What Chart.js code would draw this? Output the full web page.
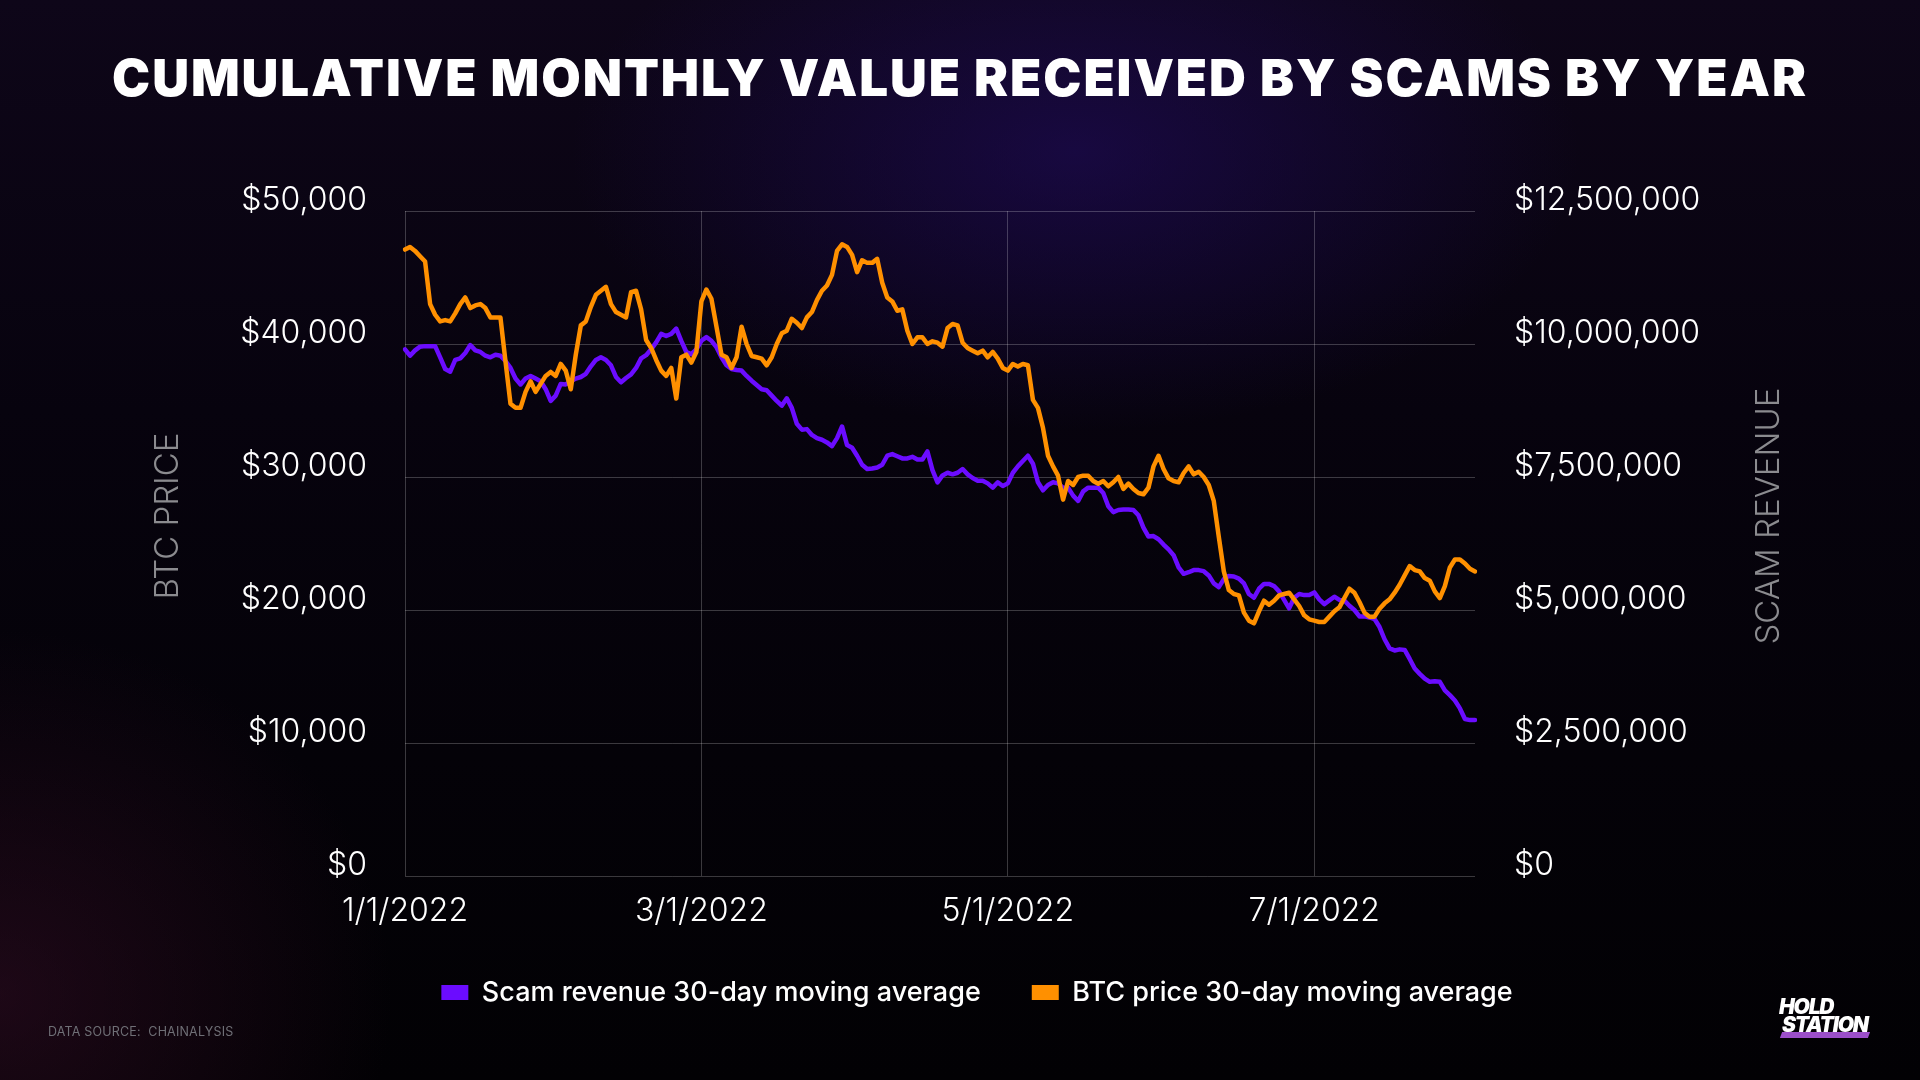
<!DOCTYPE html>
<html>
<head>
<meta charset="utf-8">
<script src="https://cdn.jsdelivr.net/npm/chart.js@4.4.1/dist/chart.umd.min.js"></script>
<style>
  html, body { margin: 0; padding: 0; }
  body {
    width: 1920px; height: 1080px; overflow: hidden; position: relative;
    font-family: Inter, 'Noto Sans', sans-serif;
    background:
      radial-gradient(ellipse 720px 400px at 56% 14%, rgba(34, 12, 100, 0.55), rgba(34, 12, 100, 0) 70%),
      radial-gradient(ellipse 560px 520px at 0% 92%, rgba(62, 16, 44, 0.45), rgba(62, 16, 44, 0) 70%),
      linear-gradient(to bottom, #0e0619 0%, #07030e 38%, #040208 70%, #020104 100%);
  }
  #chart { position: absolute; left: 0; top: 0; }
  .title {
    position: absolute; left: 0; top: 52px; width: 1920px; margin: 0;
    text-align: center; color: #fff;
    font-family: Inter, sans-serif; font-weight: 900; font-size: 51px; line-height: 52px;
    letter-spacing: 1.95px;
  }
  .source {
    position: absolute; left: 48px; top: 1024px;
    color: #6f6f76; font-size: 12.5px; letter-spacing: 0.2px;
  }
  .logo {
    position: absolute; left: 1779px; top: 998px; width: 94px; height: 42px;
    color: #fff; font-weight: 900; font-style: italic; font-size: 21px; line-height: 18px;
    letter-spacing: -1.2px;
  }
  .logo .bar {
    position: absolute; left: 2px; top: 34px; width: 88px; height: 6px;
    background: #9b4fc9; transform: skewX(-20deg);
  }
  .logo span { position: relative; display: block; }
  .logo span + span { margin-left: 3px; }
</style>
</head>
<body>
<h1 class="title">CUMULATIVE MONTHLY VALUE RECEIVED BY SCAMS BY YEAR</h1>
<canvas id="chart" width="1920" height="1080"></canvas>
<div class="source">DATA SOURCE:&nbsp; CHAINALYSIS</div>
<div class="logo"><div class="bar"></div><span>HOLD</span><span>STATION</span></div>
<script>
// daily values from 1/1/2022, one per day
const btcPrice = [
  47100, 47300, 47000, 46600, 46200, 43000, 42200, 41700, 41800, 41700,
  42300, 43000, 43500, 42700, 42900, 43000, 42700, 42000, 42000, 42000,
  38700, 35500, 35200, 35200, 36400, 37200, 36400, 37000, 37600, 37900,
  37600, 38500, 38000, 36600, 39200, 41400, 41700, 42800, 43700, 44000,
  44300, 43000, 42400, 42200, 42000, 43900, 44000, 42600, 40300, 39700,
  38800, 38000, 37600, 38200, 35900, 39000, 39200, 38600, 39400, 43200,
  44100, 43400, 41300, 39200, 39000, 38200, 39000, 41300, 40000, 39100,
  39000, 38900, 38400, 39000, 40000, 40800, 41000, 41900, 41600, 41200,
  42000, 42400, 43300, 44000, 44400, 45200, 47000, 47500, 47300, 46700,
  45400, 46300, 46100, 46100, 46400, 44600, 43500, 43200, 42500, 42600,
  41000, 40000, 40500, 40500, 40000, 40200, 40100, 39800, 41200, 41500,
  41400, 40100, 39700, 39500, 39300, 39500, 39000, 39400, 38900, 38200,
  38000, 38500, 38300, 38500, 38400, 35800, 35200, 33700, 31600, 30800,
  30100, 28300, 29700, 29400, 30000, 30100, 30100, 29700, 29500, 29700,
  29300, 29600, 30000, 29100, 29500, 29100, 28800, 28700, 29200, 30800,
  31600, 30600, 29900, 29700, 29600, 30300, 30800, 30200, 30400, 30000,
  29400, 28200, 25500, 22900, 21500, 21200, 21100, 19800, 19200, 19000,
  19900, 20700, 20400, 20700, 21100, 21200, 21300, 20800, 20300, 19600,
  19300, 19200, 19100, 19100, 19500, 19900, 20200, 20900, 21600, 21300,
  20600, 19800, 19500, 19500, 20100, 20500, 20800, 21300, 21900, 22600,
  23300, 23000, 22900, 22400, 22200, 21400, 20900, 21800, 23200, 23800,
  23800, 23500, 23100, 22900
];

// scam revenue, millions of dollars
const scamRevenue = [
  9.90, 9.78, 9.88, 9.95, 9.96, 9.96, 9.96, 9.75, 9.53, 9.48,
  9.70, 9.73, 9.83, 9.98, 9.88, 9.85, 9.78, 9.75, 9.80, 9.78,
  9.68, 9.55, 9.35, 9.24, 9.35, 9.40, 9.35, 9.30, 9.15, 8.93,
  9.03, 9.25, 9.24, 9.30, 9.35, 9.38, 9.44, 9.58, 9.70, 9.75,
  9.70, 9.60, 9.38, 9.28, 9.36, 9.43, 9.55, 9.73, 9.79, 9.90,
  10.03, 10.19, 10.15, 10.19, 10.29, 10.06, 9.85, 9.81, 9.90, 10.06,
  10.13, 10.06, 9.94, 9.75, 9.60, 9.53, 9.51, 9.50, 9.40, 9.31,
  9.23, 9.15, 9.13, 9.03, 8.93, 8.84, 8.98, 8.80, 8.50, 8.39,
  8.40, 8.29, 8.23, 8.20, 8.15, 8.08, 8.23, 8.45, 8.10, 8.05,
  7.90, 7.73, 7.65, 7.66, 7.68, 7.73, 7.90, 7.93, 7.89, 7.85,
  7.85, 7.88, 7.83, 7.83, 7.98, 7.63, 7.40, 7.53, 7.58, 7.55,
  7.58, 7.65, 7.55, 7.48, 7.43, 7.43, 7.38, 7.30, 7.40, 7.33,
  7.38, 7.58, 7.70, 7.80, 7.90, 7.75, 7.40, 7.25, 7.35, 7.40,
  7.38, 7.30, 7.30, 7.15, 7.05, 7.23, 7.30, 7.30, 7.30, 7.20,
  6.95, 6.84, 6.88, 6.89, 6.89, 6.88, 6.78, 6.55, 6.38, 6.39,
  6.33, 6.23, 6.14, 6.03, 5.80, 5.68, 5.71, 5.75, 5.75, 5.73,
  5.65, 5.50, 5.43, 5.58, 5.64, 5.63, 5.59, 5.50, 5.30, 5.23,
  5.40, 5.49, 5.49, 5.45, 5.35, 5.19, 5.03, 5.23, 5.30, 5.28,
  5.28, 5.33, 5.20, 5.11, 5.18, 5.25, 5.19, 5.18, 5.08, 5.00,
  4.88, 4.88, 4.86, 4.83, 4.68, 4.45, 4.28, 4.24, 4.26, 4.25,
  4.08, 3.90, 3.80, 3.71, 3.65, 3.66, 3.65, 3.49, 3.40, 3.30,
  3.15, 2.95, 2.93, 2.93
];

const tickDates = ['1/1/2022', '3/1/2022', '5/1/2022', '7/1/2022'];

// one label per day
const dates = [];
for (let i = 0; i < btcPrice.length; i++) {
  const d = new Date(2022, 0, 1 + i);
  dates.push((d.getMonth() + 1) + '/' + d.getDate() + '/' + d.getFullYear());
}

const GRID = 'rgba(255, 255, 255, 0.22)';
const PURPLE = '#6b0cff';
const ORANGE = '#ff9000';

Chart.defaults.font.family = 'Inter, "Noto Sans", sans-serif';
Chart.defaults.color = '#ffffff';

// rotated titles for both y axes (both read bottom to top)
const axisTitles = {
  id: 'axisTitles',
  afterDraw(chart) {
    const { ctx, chartArea } = chart;
    const y = chartArea.top + 305;
    ctx.save();
    ctx.font = '300 33px Inter, sans-serif';
    ctx.fillStyle = '#8b8b8f';
    ctx.textAlign = 'center';
    ctx.textBaseline = 'middle';
    [[chartArea.left - 237, 'BTC PRICE'], [chartArea.right + 294, 'SCAM REVENUE']].forEach(([x, text]) => {
      ctx.save();
      ctx.translate(x, y);
      ctx.rotate(-Math.PI / 2);
      ctx.fillText(text, 0, 0);
      ctx.restore();
    });
    ctx.restore();
  }
};

const ctx = document.getElementById('chart').getContext('2d');
const chart = new Chart(ctx, {
  type: 'line',
  data: {
    labels: dates,
    datasets: [
      {
        label: 'BTC price 30-day moving average',
        data: btcPrice,
        yAxisID: 'y',
        borderColor: ORANGE,
        backgroundColor: ORANGE,
        borderWidth: 4.5
      },
      {
        label: 'Scam revenue 30-day moving average',
        data: scamRevenue,
        yAxisID: 'y2',
        borderColor: PURPLE,
        backgroundColor: PURPLE,
        borderWidth: 4.5
      }
    ]
  },
  options: {
    responsive: false,
    animation: false,
    devicePixelRatio: 1,
    layout: { padding: { top: 211, left: 34, right: 0, bottom: 64 } },
    elements: {
      point: { radius: 0 },
      line: { tension: 0, borderJoinStyle: 'round', borderCapStyle: 'round' }
    },
    plugins: {
      tooltip: { enabled: false },
      legend: {
        position: 'bottom',
        reverse: true,
        labels: {
          boxWidth: 27,
          boxHeight: 15,
          padding: 51,
          color: '#ffffff',
          font: { size: 27, weight: 500 },
          generateLabels(chart) {
            return Chart.defaults.plugins.legend.labels.generateLabels(chart)
              .map(item => ({ ...item, lineWidth: 0 }));
          }
        }
      }
    },
    scales: {
      x: {
        type: 'category',
        border: { display: false },
        grid: {
          color: c => tickDates.includes(dates[c.index]) ? GRID : 'rgba(0,0,0,0)',
          drawTicks: false
        },
        ticks: {
          autoSkip: false,
          maxRotation: 0,
          minRotation: 0,
          padding: 16,
          color: '#ffffff',
          font: { size: 32, weight: 300 },
          callback: (value, index) => tickDates.includes(dates[index]) ? dates[index] : ''
        },
        afterFit(scale) { scale.height = 52; }
      },
      y: {
        position: 'left',
        min: 0,
        max: 50000,
        border: { display: false },
        grid: { color: GRID, drawTicks: false },
        ticks: {
          stepSize: 10000,
          padding: 38,
          labelOffset: -11,
          color: '#ffffff',
          font: { size: 32, weight: 300 },
          callback: v => '$' + v.toLocaleString('en-US')
        },
        afterFit(scale) { scale.width = 371; }
      },
      y2: {
        position: 'right',
        min: 0,
        max: 12.5,
        border: { display: false },
        grid: { display: false },
        ticks: {
          stepSize: 2.5,
          padding: 31,
          labelOffset: -11,
          color: '#ffffff',
          font: { size: 32, weight: 300 },
          callback: v => '$' + Math.round(v * 1e6).toLocaleString('en-US')
        },
        afterFit(scale) { scale.width = 445; }
      }
    }
  },
  plugins: [axisTitles]
});
</script>
</body>
</html>
